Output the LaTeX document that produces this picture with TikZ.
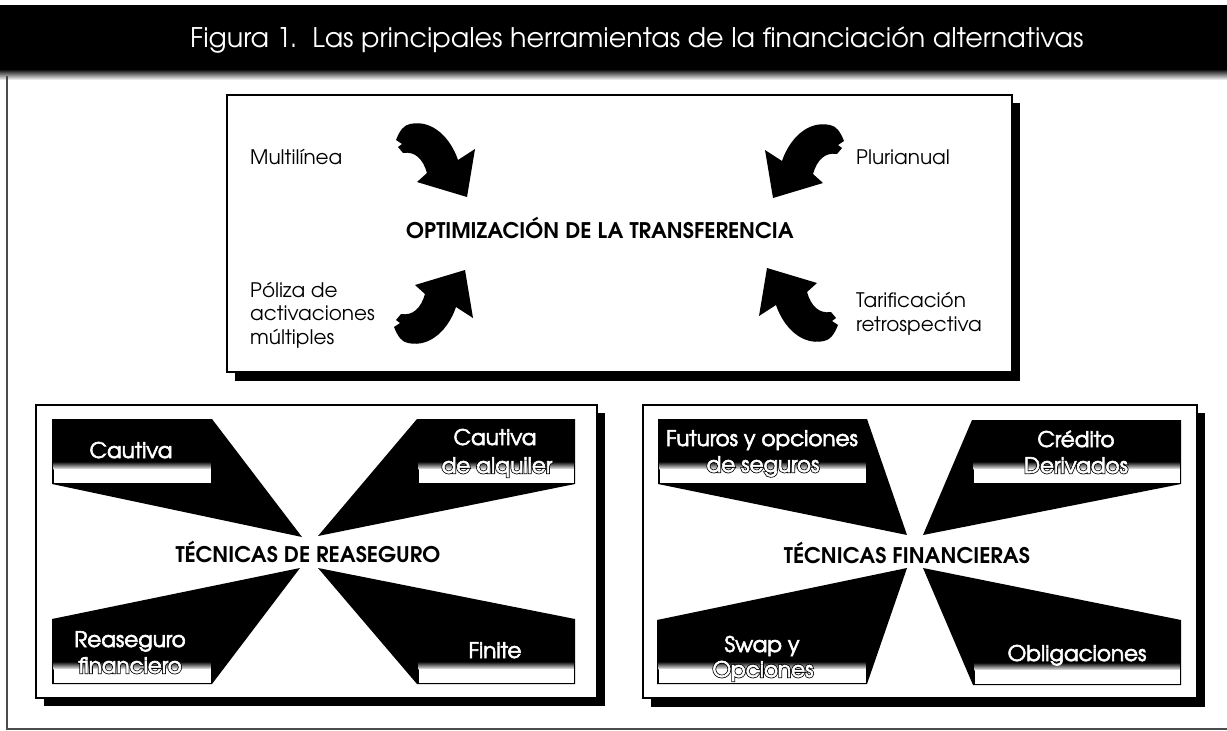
\documentclass[tikz,border=0pt]{standalone}
\usepackage{fontspec}
\setmainfont{texgyreadventor}[Extension=.otf,UprightFont=*-regular,BoldFont=*-bold]
\newcommand\whitestrip[3]{%
  \shade[top color=black, bottom color=white] (#1,#3-21) rectangle (#2,#3-13);
  \fill[white] (#1,#3-13.2) rectangle (#2,#3);}
\newcommand\heavy[1]{\special{pdf:literal direct 0.6 w 2 Tr}#1\special{pdf:literal direct 0 Tr}}
\newcommand\otext[1]{\rlap{\color{black}\special{pdf:literal direct 2.2 w 2 Tr}#1\special{pdf:literal direct 0 Tr}}\heavy{#1}}
\newcommand\bigarrow{%
  \fill (0,0) -- (-50,-15) -- (-40,-24)
    .. controls (-44,-38) and (-52,-46) .. (-64,-44)
    -- (-69,-50) -- (-65,-53) -- (-71,-57)
    .. controls (-67,-67) and (-63,-72) .. (-57,-73)
    .. controls (-34,-78) and (-16,-58) .. (-9,-37)
    -- (8,-48) -- cycle;}
\begin{document}
\begin{tikzpicture}[x=1pt,y=-1pt,
  lbl/.style={inner sep=0pt, font=\fontsize{20}{24}\selectfont},
  wlbl/.style={inner sep=0pt, font=\fontsize{21.5}{24}\selectfont, text=white, anchor=base},
  tlbl/.style={lbl, text=black, anchor=base west},
  hub/.style={inner sep=0pt, font=\bfseries\fontsize{21.5}{24}\selectfont, anchor=base},
  panel/.style={draw=black, line width=1.4pt, fill=white},
]
\path[use as bounding box] (0,0) rectangle (1227,731);
\fill[white] (0,0) rectangle (1227,731);
% banner
\fill[black] (0,5) rectangle (1227,69);
\shade[top color=black, bottom color=white] (0,69) rectangle (1227,80);
\node[inner sep=0pt, text=white, anchor=base west, font=\fontsize{27}{30}\selectfont] (title) at (190,47) {Figura 1.\ \ Las principales herramientas de la financiación alternativas};
% frame
\draw[black!70, line width=1.5pt] (7,76) -- (7,729) -- (1227,729);

% ---------- top panel
\fill (235,103) rectangle (1020,381);
\draw[panel] (227,95) rectangle (1012,372);
\node[hub] (opt) at (600,238) {OPTIMIZACIÓN DE LA TRANSFERENCIA};
\node[tlbl] (mul) at (250,164) {Multilínea};
\node[tlbl] (pol1) at (250,297) {Póliza de};
\node[tlbl] (pol2) at (250,320) {activaciones};
\node[tlbl] (pol3) at (250,344) {múltiples};
\node[tlbl] (plu) at (856,164) {Plurianual};
\node[tlbl] (tar1) at (856,307) {Tarificación};
\node[tlbl] (tar2) at (856,331) {retrospectiva};
\begin{scope}[shift={(467,197)}]\bigarrow\end{scope}
\begin{scope}[shift={(773,198)}, xscale=-1]\bigarrow\end{scope}
\begin{scope}[shift={(465,270)}, yscale=-1]\bigarrow\end{scope}
\begin{scope}[shift={(767,268)}, xscale=-1, yscale=-1]\bigarrow\end{scope}

% ---------- left panel
\fill (44,413) rectangle (605,706);
\draw[panel] (36,405) rectangle (597,698);
\fill (52,419) -- (212,419) -- (302,537) -- (52,484) -- cycle;
\fill (417,419) -- (575,419) -- (575,484) -- (318,536) -- cycle;
\fill (52,619) -- (300,568) -- (212,684) -- (52,684) -- cycle;
\fill (318,568) -- (575,619) -- (575,684) -- (417,684) -- cycle;
\whitestrip{53.5}{210.5}{482.5}
\whitestrip{418.5}{573.5}{482.5}
\whitestrip{53.5}{210.5}{682.5}
\whitestrip{418.5}{573.5}{682.5}
\node[hub] (reas) at (308,562) {TÉCNICAS DE REASEGURO};
\node[wlbl] (cau) at (131,458) {\heavy{Cautiva}};
\node[wlbl] (cal1) at (495,445) {\heavy{Cautiva}};
\node[wlbl] (cal2) at (497,473) {\otext{de alquiler}};
\node[wlbl] (rf1) at (130,647) {\heavy{Reaseguro}};
\node[wlbl] (rf2) at (130,673) {\otext{financiero}};
\node[wlbl] (fin) at (495,658) {\heavy{Finite}};

% ---------- right panel
\fill (651,413) rectangle (1205,707);
\draw[panel] (643,405) rectangle (1197,698);
\fill (658,419) -- (867,419) -- (907,535) -- (658,484) -- cycle;
\fill (972,420) -- (1181,420) -- (1181,484) -- (923,535) -- cycle;
\fill (657,620) -- (907,568) -- (867,684) -- (657,684) -- cycle;
\fill (923,568) -- (1181,620) -- (1181,685) -- (973,685) -- cycle;
\whitestrip{659.5}{865.5}{482.5}
\whitestrip{973.5}{1179.5}{482.5}
\whitestrip{658.5}{865.5}{682.5}
\whitestrip{974.5}{1179.5}{683.5}
\node[hub] (fina) at (907,563) {TÉCNICAS FINANCIERAS};
\node[wlbl] (fut1) at (762,446) {\heavy{Futuros y opciones}};
\node[wlbl] (fut2) at (763,472) {\otext{de seguros}};
\node[wlbl] (cre1) at (1076,447) {\heavy{Crédito}};
\node[wlbl] (cre2) at (1076,473) {\otext{Derivados}};
\node[wlbl] (swa1) at (762,652) {\heavy{Swap y}};
\node[wlbl] (swa2) at (763,677) {\otext{Opciones}};
\node[wlbl] (obl) at (1077,661) {\heavy{Obligaciones}};
\end{tikzpicture}
\end{document}
